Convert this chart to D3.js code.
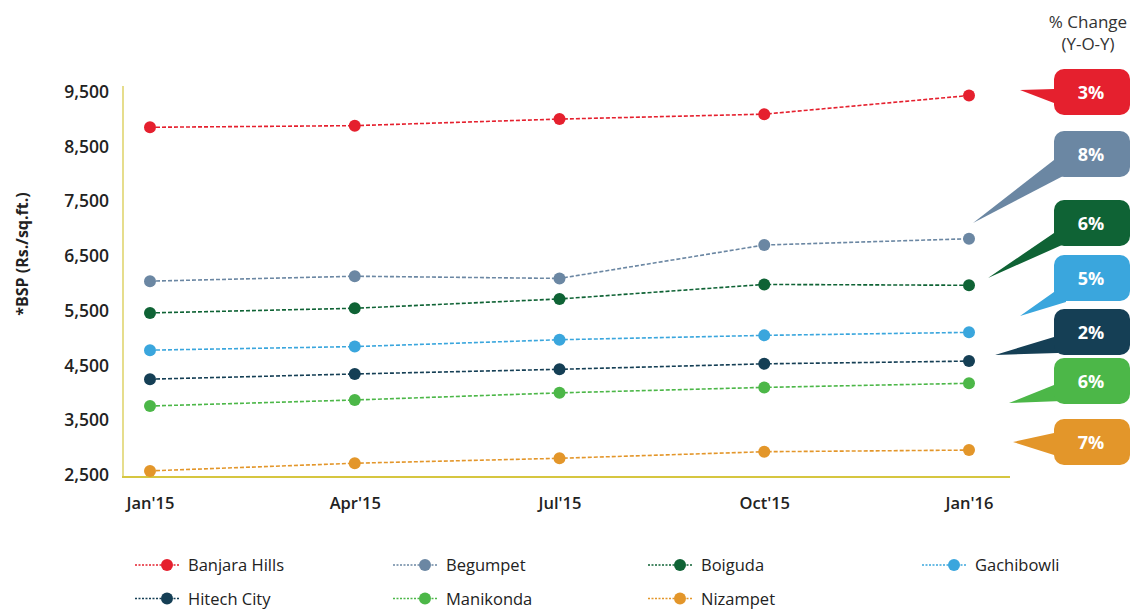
<!DOCTYPE html>
<html><head><meta charset="utf-8">
<script src="https://cdn.jsdelivr.net/npm/d3@7/dist/d3.min.js"></script>
<style>
html,body{margin:0;padding:0;background:#fff;}
svg{display:block;font-family:"Open Sans",sans-serif;}
</style></head>
<body>
<svg id="chart" width="1131" height="610"></svg>
<script>
// ---- data ----
const categories = ["Jan'15", "Apr'15", "Jul'15", "Oct'15", "Jan'16"];
const yTicks = [2500, 3500, 4500, 5500, 6500, 7500, 8500, 9500];
const seriesNames = ["Banjara Hills", "Begumpet", "Boiguda", "Gachibowli", "Hitech City", "Manikonda", "Nizampet"];
const banjaraHills = [8850, 8880, 9000, 9090, 9430];
const begumpet     = [6040, 6130, 6090, 6700, 6815];
const boiguda      = [5460, 5545, 5715, 5980, 5965];
const gachibowli   = [4780, 4845, 4970, 5050, 5105];
const hitechCity   = [4250, 4345, 4430, 4530, 4580];
const manikonda    = [3760, 3870, 4000, 4100, 4175];
const nizampet     = [2575, 2715, 2805, 2925, 2955];
const yoyChange = ["3%", "8%", "6%", "5%", "2%", "6%", "7%"];
const yTitle = "*BSP (Rs./sq.ft.)";
const calloutTitle = ["% Change", "(Y-O-Y)"];

// ---- style / layout ----
const colors = ["#e5202e", "#6b87a3", "#0f6335", "#3aa6dd", "#153f55", "#4cb748", "#e3962a"];
const seriesValues = [banjaraHills, begumpet, boiguda, gachibowli, hitechCity, manikonda, nizampet];
const axisColor = "#d6c640";

const svg = d3.select("#chart");
const x = d3.scalePoint().domain(categories).range([150, 969]);
const y = d3.scaleLinear().domain([2500, 9500]).range([475, 91.7]);

// axes lines
svg.append("line").attr("x1", 123).attr("x2", 123).attr("y1", 86).attr("y2", 477)
  .attr("stroke", axisColor).attr("stroke-width", 1.2);
svg.append("line").attr("x1", 122).attr("x2", 1010).attr("y1", 477).attr("y2", 477)
  .attr("stroke", axisColor).attr("stroke-width", 2);

// y axis
const gy = svg.append("g").attr("transform", "translate(123,0)")
  .call(d3.axisLeft(y).tickValues(yTicks).tickSize(0).tickPadding(14).tickFormat(d3.format(",")));
gy.select(".domain").remove();
gy.selectAll("text").attr("font-family", "Open Sans, sans-serif").attr("font-size", 17.5)
  .attr("font-weight", 600).attr("fill", "#222");

// x axis
const gx = svg.append("g").attr("transform", "translate(0,489)")
  .call(d3.axisBottom(x).tickSize(0).tickPadding(8));
gx.select(".domain").remove();
gx.selectAll("text").attr("font-family", "Open Sans, sans-serif").attr("font-size", 16.5)
  .attr("font-weight", 600).attr("fill", "#222");

// y title
svg.append("text").attr("transform", "translate(28,254) rotate(-90)")
  .attr("text-anchor", "middle").attr("font-size", 16).attr("font-weight", 700)
  .attr("fill", "#222").text(yTitle);

// lines + points
const line = d3.line().x((d, i) => x(categories[i])).y(d => y(d));
seriesValues.forEach((vals, s) => {
  svg.append("path").datum(vals).attr("d", line).attr("fill", "none")
    .attr("stroke", colors[s]).attr("stroke-width", 1.6).attr("stroke-dasharray", "4,2");
  svg.selectAll(null).data(vals).enter().append("circle")
    .attr("cx", (d, i) => x(categories[i])).attr("cy", d => y(d)).attr("r", 6)
    .attr("fill", colors[s]);
});

// callouts (annotation layout)
svg.append("text").attr("x", 1088).attr("y", 28).attr("text-anchor", "middle")
  .attr("font-size", 17).attr("fill", "#333").text(calloutTitle[0]);
svg.append("text").attr("x", 1088).attr("y", 50).attr("text-anchor", "middle")
  .attr("font-size", 17).attr("fill", "#333").text(calloutTitle[1]);

const boxTop = [69, 131, 200, 255, 309, 358, 419];
const tailTip = [[1020, 90], [973, 223], [988, 278], [1020, 316], [995, 355], [1009, 403], [1013, 442]];
const tailBase = [[[0, 20], [0, 34]], [[0, 29], [11, 44]], [[0, 33], [8, 45]], [[0, 37], [12, 47]],
                  [[0, 28], [4, 44]], [[0, 27], [8, 43]], [[0, 14], [0, 36]]];
const boxX = 1054, boxW = 76, boxH = 46;
yoyChange.forEach((t, i) => {
  const top = boxTop[i];
  const b = tailBase[i];
  const p = [[boxX + b[0][0], top + b[0][1]], tailTip[i], [boxX + b[1][0], top + b[1][1]], [boxX + 10, top + boxH / 2]];
  svg.append("path").attr("d", d3.line()(p) + "Z").attr("fill", colors[i]);
  svg.append("rect").attr("x", boxX).attr("y", top).attr("width", boxW).attr("height", boxH)
    .attr("rx", 10).attr("fill", colors[i]);
  svg.append("text").attr("x", boxX + boxW / 2 - 1).attr("y", top + boxH / 2 + 6.5)
    .attr("text-anchor", "middle").attr("font-size", 18).attr("font-weight", 700)
    .attr("fill", "#fff").text(t);
});

// legend
const legCols = [135, 393, 648, 922];
const legRows = [565, 598.5];
seriesNames.forEach((name, i) => {
  const col = i < 4 ? i : i - 4;
  const row = i < 4 ? 0 : 1;
  const g = svg.append("g").attr("transform", `translate(${legCols[col]},${legRows[row]})`);
  g.append("line").attr("x1", 0).attr("x2", 45).attr("y1", 0).attr("y2", 0)
    .attr("stroke", colors[i]).attr("stroke-width", 1.5).attr("stroke-dasharray", "2,1.5");
  g.append("circle").attr("cx", 32).attr("cy", 0).attr("r", 6).attr("fill", colors[i]);
  g.append("text").attr("x", 53).attr("y", 6).attr("font-size", 16.5).attr("font-weight", 500)
    .attr("fill", "#222").text(name);
});
</script>
</body></html>
